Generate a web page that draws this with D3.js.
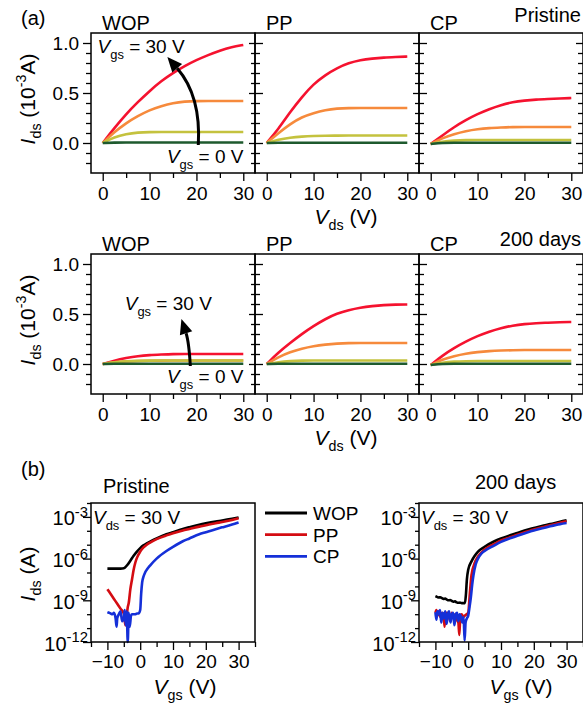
<!DOCTYPE html>
<html>
<head>
<meta charset="utf-8">
<script src="https://cdn.jsdelivr.net/npm/d3@7"></script>
<style>
  body { margin: 0; background: #fff; }
  svg { display: block; font-family: "Liberation Sans", Arial, sans-serif; }
</style>
</head>
<body>
<svg id="chart" width="583" height="707"></svg>
<script>
// ---- output curves (a): Ids in 10^-3 A vs Vds, one array per Vgs step (30, 20, 10, 0 V)
const vds = [0, 2.5, 5, 7.5, 10, 12.5, 15, 17.5, 20, 22.5, 25, 27.5, 30];

const wopPristine = [
  [0, 0.15, 0.29, 0.41, 0.52, 0.62, 0.7, 0.77, 0.83, 0.88, 0.925, 0.96, 0.98],
  [0, 0.11, 0.2, 0.27, 0.33, 0.37, 0.4, 0.415, 0.42, 0.42, 0.42, 0.42, 0.42],
  [0, 0.06, 0.09, 0.105, 0.11, 0.11, 0.11, 0.11, 0.11, 0.11, 0.11, 0.11, 0.11],
  [0, 0.004, 0.005, 0.005, 0.005, 0.005, 0.005, 0.005, 0.005, 0.005, 0.005, 0.005, 0.005],
];
const ppPristine = [
  [0, 0.14, 0.31, 0.46, 0.59, 0.68, 0.75, 0.8, 0.83, 0.845, 0.855, 0.86, 0.865],
  [0, 0.1, 0.19, 0.26, 0.3, 0.33, 0.345, 0.35, 0.35, 0.35, 0.35, 0.35, 0.35],
  [0, 0.035, 0.055, 0.065, 0.07, 0.072, 0.074, 0.075, 0.075, 0.075, 0.075, 0.075, 0.075],
  [0, 0.002, 0.003, 0.003, 0.003, 0.003, 0.003, 0.003, 0.003, 0.003, 0.003, 0.003, 0.003],
];
const cpPristine = [
  [-0.01, 0.075, 0.16, 0.23, 0.29, 0.34, 0.38, 0.41, 0.425, 0.435, 0.44, 0.445, 0.45],
  [-0.01, 0.05, 0.09, 0.12, 0.14, 0.15, 0.155, 0.16, 0.16, 0.16, 0.16, 0.16, 0.16],
  [-0.01, 0.015, 0.025, 0.03, 0.03, 0.03, 0.03, 0.03, 0.03, 0.03, 0.03, 0.03, 0.03],
  [-0.01, 0.002, 0.003, 0.003, 0.003, 0.003, 0.003, 0.003, 0.003, 0.003, 0.003, 0.003, 0.003],
];
const wopAged = [
  [0, 0.035, 0.06, 0.08, 0.09, 0.095, 0.1, 0.1, 0.1, 0.1, 0.1, 0.1, 0.1],
  [0, 0.018, 0.027, 0.031, 0.033, 0.034, 0.035, 0.035, 0.035, 0.035, 0.035, 0.035, 0.035],
  [0, 0.02, 0.028, 0.032, 0.034, 0.035, 0.035, 0.035, 0.035, 0.035, 0.035, 0.035, 0.035],
  [0, 0.002, 0.003, 0.003, 0.003, 0.003, 0.003, 0.003, 0.003, 0.003, 0.003, 0.003, 0.003],
];
const ppAged = [
  [0, 0.115, 0.21, 0.3, 0.38, 0.45, 0.505, 0.54, 0.565, 0.58, 0.59, 0.595, 0.595],
  [0, 0.07, 0.12, 0.155, 0.18, 0.195, 0.205, 0.21, 0.21, 0.21, 0.21, 0.21, 0.21],
  [0, 0.02, 0.03, 0.035, 0.035, 0.035, 0.035, 0.035, 0.035, 0.035, 0.035, 0.035, 0.035],
  [0, 0.002, 0.003, 0.003, 0.003, 0.003, 0.003, 0.003, 0.003, 0.003, 0.003, 0.003, 0.003],
];
const cpAged = [
  [-0.01, 0.085, 0.16, 0.225, 0.28, 0.325, 0.36, 0.385, 0.4, 0.408, 0.413, 0.418, 0.42],
  [-0.01, 0.045, 0.08, 0.105, 0.12, 0.13, 0.135, 0.138, 0.14, 0.14, 0.14, 0.14, 0.14],
  [-0.01, 0.015, 0.025, 0.028, 0.03, 0.03, 0.03, 0.03, 0.03, 0.03, 0.03, 0.03, 0.03],
  [-0.01, 0.002, 0.003, 0.003, 0.003, 0.003, 0.003, 0.003, 0.003, 0.003, 0.003, 0.003, 0.003],
];

const panelNames = ["WOP", "PP", "CP"];
const outXTicks = [0, 10, 20, 30];
const outYTicks = [0, 0.5, 1.0];

// ---- transfer curves (b): Vgs (V) and log10(Ids / A) at Vds = 30 V
const pWopVgs = [-10, -9, -8, -7, -6, -5, -4, -3, -2, -1, 0, 1, 2, 3, 5, 8, 10, 13, 15, 18, 20, 23, 25, 28, 30];
const pWopLogI = [-6.72, -6.72, -6.72, -6.72, -6.72, -6.7, -6.48, -6.15, -5.8, -5.5, -5.25, -5.05, -4.9, -4.78, -4.55, -4.25, -4.1, -3.87, -3.74, -3.56, -3.46, -3.33, -3.26, -3.14, -3.05];
const pPpVgs = [-10, -9, -8, -7, -6, -5, -4.5, -4.2, -3.8, -3.5, -3, -2.5, -2, -1.5, -1, 0, 1, 2, 3, 5, 8, 10, 13, 15, 18, 20, 23, 25, 28, 30];
const pPpLogI = [-8.2, -8.55, -8.9, -9.25, -9.6, -9.95, -10.8, -10.3, -9.5, -9.2, -8.2, -7.5, -6.8, -6.3, -5.95, -5.5, -5.2, -5.0, -4.85, -4.6, -4.33, -4.18, -3.98, -3.87, -3.7, -3.6, -3.45, -3.37, -3.22, -3.1];
const pCpVgs = [-10, -9.5, -9, -8.5, -8, -7.5, -7.2, -7, -6.5, -6, -5.5, -5, -4.7, -4.4, -4.1, -3.8, -3.5, -3.2, -2.8, -2.5, -2, -1.5, -1, -0.5, 0, 0.3, 0.6, 1, 1.5, 2, 3, 5, 8, 10, 13, 15, 18, 20, 23, 25, 28, 30];
const pCpLogI = [-9.85, -9.9, -9.95, -10.0, -9.9, -10.3, -10.9, -10.3, -10.0, -9.8, -10.5, -10.3, -9.7, -10.8, -9.8, -12.0, -9.9, -10.9, -10.1, -10.0, -10.0, -10.0, -9.95, -9.95, -9.7, -8.5, -7.7, -7.3, -7.0, -6.8, -6.5, -6.0, -5.45, -5.15, -4.75, -4.55, -4.25, -4.1, -3.88, -3.75, -3.55, -3.4];

const aWopVgs = [-10, -9.5, -9, -8.5, -8, -7.5, -7, -6.5, -6, -5.5, -5, -4.5, -4, -3.5, -3, -2.5, -2, -1.5, -1, -0.7, -0.4, 0, 1, 2, 3, 5, 8, 10, 13, 15, 18, 20, 23, 25, 28, 30];
const aWopLogI = [-8.7, -8.75, -8.8, -8.78, -8.85, -8.9, -8.88, -8.95, -9.0, -8.98, -9.05, -9.1, -9.08, -9.15, -9.18, -9.17, -9.2, -9.2, -9.2, -8.6, -7.5, -6.8, -6.2, -5.8, -5.5, -5.15, -4.75, -4.55, -4.3, -4.15, -3.92, -3.8, -3.62, -3.52, -3.35, -3.25];
const aPpVgs = [-10, -9.7, -9.4, -9, -8.5, -8, -7.5, -7.2, -7, -6.5, -6, -5.5, -5, -4.5, -4, -3.5, -3, -2.7, -2.4, -2, -1.5, -1, -0.5, 0, 0.5, 1, 2, 3, 5, 8, 10, 13, 15, 18, 20, 23, 25, 28, 30];
const aPpLogI = [-9.9, -9.7, -10.1, -9.8, -10.2, -9.9, -10.1, -10.9, -10.2, -9.9, -10.0, -10.5, -9.9, -10.3, -10.0, -10.4, -10.6, -11.5, -10.1, -10.0, -10.2, -10.1, -10.0, -9.9, -8.5, -7.2, -6.3, -5.85, -5.35, -4.95, -4.7, -4.45, -4.28, -4.05, -3.9, -3.72, -3.6, -3.42, -3.32];
const aCpVgs = [-10, -9.7, -9.4, -9, -8.6, -8.2, -7.8, -7.4, -7, -6.6, -6.2, -5.8, -5.4, -5, -4.6, -4.2, -3.8, -3.4, -3, -2.6, -2.2, -1.8, -1.4, -1.1, -0.8, -0.4, 0, 0.4, 0.8, 1.2, 1.6, 2.3, 3, 4, 5, 8, 10, 13, 15, 18, 20, 23, 25, 28, 30];
const aCpLogI = [-9.85, -10.4, -9.8, -10.0, -9.7, -10.6, -9.9, -10.3, -9.8, -10.7, -10.0, -9.8, -10.6, -10.0, -9.9, -10.8, -10.0, -9.9, -10.5, -10.0, -10.2, -10.6, -10.2, -11.9, -10.6, -10.3, -10.1, -9.5, -8.8, -7.9, -7.2, -6.4, -6.0, -5.65, -5.45, -5.05, -4.8, -4.52, -4.35, -4.12, -3.98, -3.8, -3.68, -3.52, -3.44];

const legendNames = ["WOP", "PP", "CP"];
const trXTicks = [-10, 0, 10, 20, 30];
const trYTicks = [1e-12, 1e-9, 1e-6, 1e-3];

// ---- styles
const outColors = ["#f5122f", "#f68a3c", "#c4c23e", "#1e5a2e"];
const trColors = ["#000000", "#d40c12", "#1530d8"];
const TICK_FONT = 19;

const svg = d3.select("#chart");

function styleAxis(g) {
  g.select(".domain").remove();
  g.selectAll("line").attr("stroke", "#000").attr("stroke-width", 1.3);
  g.attr("font-family", null).attr("font-size", TICK_FONT);
  g.selectAll("text").attr("fill", "#000");
}

// text made of pieces: [string, kind] where kind is "i" italic, "sub", "sup" or plain
function richText(parent, x, y, pieces, size, anchor, transform, small) {
  const ratio = small || 0.68;
  const t = parent.append("text")
    .attr("x", x).attr("y", y)
    .attr("fill", "#000")
    .attr("font-size", size)
    .attr("text-anchor", anchor || "start");
  if (transform) t.attr("transform", transform);
  let shift = 0;
  pieces.forEach(([s, kind]) => {
    const span = t.append("tspan").text(s);
    let target = 0;
    if (kind === "sub") { target = size * 0.3; span.attr("font-size", size * ratio); }
    if (kind === "sup") { target = -size * 0.42; span.attr("font-size", size * ratio); }
    if (kind === "i") span.attr("font-style", "italic");
    if (target !== shift) { span.attr("dy", target - shift); shift = target; }
  });
  return t;
}

function drawOutputRow(top, data, cornerLabel, cornerY, annot) {
  const h = 140, w = 164, left = 91;
  const y = d3.scaleLinear().domain([-0.3, 1.1]).range([top + h, top]);
  const minorY = d3.range(-0.2, 1.05, 0.1).map(v => +v.toFixed(1)).filter(v => !outYTicks.includes(v));

  data.forEach((curves, i) => {
    const x0 = left + i * w;
    const x = d3.scaleLinear().domain([-2.5, 32.5]).range([x0, x0 + w]);
    const line = d3.line().x((d, j) => x(vds[j])).y(d => y(d)).curve(d3.curveBasis);

    curves.forEach((vals, k) => {
      svg.append("path").datum(vals)
        .attr("d", line)
        .attr("fill", "none")
        .attr("stroke", outColors[k])
        .attr("stroke-width", 2.6);
    });

    svg.append("rect")
      .attr("x", x0).attr("y", top).attr("width", w).attr("height", h)
      .attr("fill", "none").attr("stroke", "#000").attr("stroke-width", 1.5);

    // bottom axis
    svg.append("g").attr("transform", `translate(0,${top + h})`)
      .call(d3.axisBottom(x).tickValues(outXTicks).tickSize(8).tickPadding(6))
      .call(styleAxis);
    svg.append("g").attr("transform", `translate(0,${top + h})`)
      .call(d3.axisBottom(x).tickValues([5, 15, 25]).tickSize(5).tickFormat(""))
      .call(styleAxis);

    if (i === 0) {
      svg.append("g").attr("transform", `translate(${x0},0)`)
        .call(d3.axisLeft(y).tickValues(outYTicks).tickSize(8).tickPadding(4).tickFormat(d3.format(".1f")))
        .call(styleAxis);
      svg.append("g").attr("transform", `translate(${x0},0)`)
        .call(d3.axisLeft(y).tickValues(minorY).tickSize(5).tickFormat(""))
        .call(styleAxis);
    } else {
      // ticks crossing the shared border
      svg.append("g").attr("transform", `translate(${x0},0)`)
        .call(d3.axisLeft(y).tickValues(outYTicks).tickSize(6).tickFormat(""))
        .call(styleAxis);
      svg.append("g").attr("transform", `translate(${x0},0)`)
        .call(d3.axisRight(y).tickValues(outYTicks).tickSize(8).tickFormat(""))
        .call(styleAxis);
      svg.append("g").attr("transform", `translate(${x0},0)`)
        .call(d3.axisLeft(y).tickValues(minorY).tickSize(4).tickFormat(""))
        .call(styleAxis);
      svg.append("g").attr("transform", `translate(${x0},0)`)
        .call(d3.axisRight(y).tickValues(minorY).tickSize(5).tickFormat(""))
        .call(styleAxis);
    }
    if (i === 2) {
      svg.append("g").attr("transform", `translate(${x0 + w},0)`)
        .call(d3.axisLeft(y).tickValues(outYTicks).tickSize(7).tickFormat(""))
        .call(styleAxis);
      svg.append("g").attr("transform", `translate(${x0 + w},0)`)
        .call(d3.axisLeft(y).tickValues(minorY).tickSize(5).tickFormat(""))
        .call(styleAxis);
    }

    svg.append("text").attr("x", x0 + 11).attr("y", top - 3)
      .attr("font-size", 20).text(panelNames[i]);

    if (i === 0) {
      // Vgs annotation and arrow
      richText(svg, x(annot.top[0]), y(annot.top[1]), [["V", "i"], ["gs", "sub"], [" = 30 V", ""]], 19);
      richText(svg, x(annot.bottom[0]), y(annot.bottom[1]), [["V", "i"], ["gs", "sub"], [" = 0 V", ""]], 19);
      const [s, c, e] = annot.arrow.map(p => [x(p[0]), y(p[1])]);
      const ang = Math.atan2(e[1] - c[1], e[0] - c[0]);
      const hl = 15, hw = 6.5;
      const base = [e[0] - hl * Math.cos(ang), e[1] - hl * Math.sin(ang)];
      svg.append("path")
        .attr("d", `M${s[0]},${s[1]} Q${c[0]},${c[1]} ${base[0]},${base[1]}`)
        .attr("fill", "none").attr("stroke", "#000").attr("stroke-width", 3);
      svg.append("path")
        .attr("d", `M${e[0]},${e[1]} L${base[0] + hw * Math.sin(ang)},${base[1] - hw * Math.cos(ang)} L${base[0] - hw * Math.sin(ang)},${base[1] + hw * Math.cos(ang)} Z`)
        .attr("fill", "#000");
    }
  });

  svg.append("text").attr("x", 581).attr("y", cornerY)
    .attr("text-anchor", "end").attr("font-size", 20).text(cornerLabel);

  // y title
  richText(svg, 0, 0, [["I", "i"], ["ds", "sub"], [" (10", ""], ["-3", "sup"], ["A)", ""]], 21, "middle",
    `translate(35,${top + h / 2 - 4}) rotate(-90)`);
  // x title
  richText(svg, 346, top + h + 51, [["V", "i"], ["ds", "sub"], [" (V)", ""]], 21, "middle");
}

drawOutputRow(33, [wopPristine, ppPristine, cpPristine], "Pristine", 22, {
  top: [-1.1, 0.9], bottom: [13.7, -0.2],
  arrow: [[20.4, -0.02], [21, 0.47], [13.8, 0.86]],
});
drawOutputRow(254, [wopAged, ppAged, cpAged], "200 days", 246, {
  top: [4.7, 0.54], bottom: [13.7, -0.19],
  arrow: [[18.7, -0.02], [18.4, 0.22], [16.8, 0.45]],
});

svg.append("text").attr("x", 21).attr("y", 25).attr("font-size", 20).text("(a)");
svg.append("text").attr("x", 21).attr("y", 476).attr("font-size", 20).text("(b)");

// ---- transfer panels
function drawTransfer(x0, series, title, titleX, titleY, xTitleX) {
  const w = 164, top = 503, h = 139;
  const x = d3.scaleLinear().domain([-15, 35]).range([x0, x0 + w]);
  const y = d3.scaleLog().domain([1e-12, 1e-2]).range([top + h, top]);
  const line = d3.line().x(d => x(d[0])).y(d => y(d[1])).curve(d3.curveMonotoneX);

  series.forEach(([vg, li], k) => {
    const pts = vg.map((v, j) => [v, Math.pow(10, li[j])]);
    svg.append("path").datum(pts)
      .attr("d", line)
      .attr("fill", "none")
      .attr("stroke", trColors[k])
      .attr("stroke-width", 2.6)
      .attr("stroke-linejoin", "round");
  });

  svg.append("rect")
    .attr("x", x0).attr("y", top).attr("width", w).attr("height", h)
    .attr("fill", "none").attr("stroke", "#000").attr("stroke-width", 1.5);

  svg.append("g").attr("transform", `translate(0,${top + h})`)
    .call(d3.axisBottom(x).tickValues(trXTicks).tickSize(8).tickPadding(5))
    .call(styleAxis);
  svg.append("g").attr("transform", `translate(0,${top + h})`)
    .call(d3.axisBottom(x).tickValues([-15, -5, 5, 15, 25, 35]).tickSize(5).tickFormat(""))
    .call(styleAxis);

  const yAxis = svg.append("g").attr("transform", `translate(${x0},0)`)
    .call(d3.axisLeft(y).tickValues(trYTicks).tickSize(8).tickFormat(() => ""))
    .call(styleAxis);
  yAxis.selectAll(".tick").each(function (d) {
    const tk = d3.select(this);
    richText(tk, -3, 8, [["10", ""], [String(Math.round(Math.log10(d))), "sup"]], 20, "end", null, 0.74);
  });
  const minor = d3.range(-11, -1).map(p => Math.pow(10, p)).filter(v => !trYTicks.some(t => Math.abs(Math.log10(t) - Math.log10(v)) < 0.01));
  svg.append("g").attr("transform", `translate(${x0},0)`)
    .call(d3.axisLeft(y).tickValues(minor).tickSize(4).tickFormat(""))
    .call(styleAxis);

  svg.append("text").attr("x", titleX).attr("y", titleY).attr("font-size", 20).text(title);
  richText(svg, x0 + 2, top + 21, [["V", "i"], ["ds", "sub"], [" = 30 V", ""]], 19);
  richText(svg, xTitleX, 694, [["V", "i"], ["gs", "sub"], [" (V)", ""]], 21, "middle");
}

drawTransfer(91, [[pWopVgs, pWopLogI], [pPpVgs, pPpLogI], [pCpVgs, pCpLogI]], "Pristine", 103, 493, 185);
drawTransfer(419, [[aWopVgs, aWopLogI], [aPpVgs, aPpLogI], [aCpVgs, aCpLogI]], "200 days", 475, 489, 521);

richText(svg, 0, 0, [["I", "i"], ["ds", "sub"], [" (A)", ""]], 21, "middle", "translate(35,574) rotate(-90)");

// legend
legendNames.forEach((name, k) => {
  const ly = 513 + k * 21.7;
  svg.append("line").attr("x1", 265).attr("x2", 307).attr("y1", ly).attr("y2", ly)
    .attr("stroke", trColors[k]).attr("stroke-width", 2.8);
  svg.append("text").attr("x", 313).attr("y", ly + 7).attr("font-size", 19).text(name);
});
</script>
</body>
</html>
